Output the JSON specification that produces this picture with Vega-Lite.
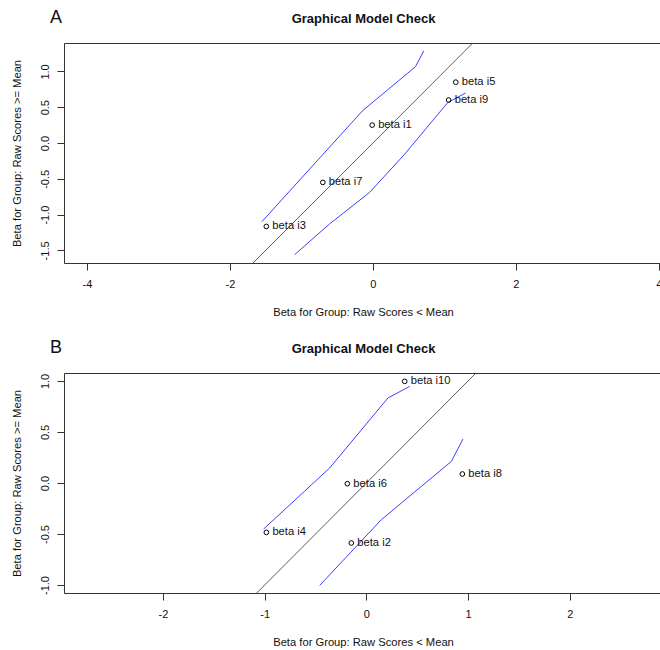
{
  "$schema": "https://vega.github.io/schema/vega-lite/v6.json",
  "padding": {"left": 10, "top": 8, "right": 0, "bottom": 0},
  "spacing": 20,
  "datasets": {
    "ptsA": [
      {"x": -0.01, "y": 0.25, "label": "beta i1"},
      {"x": 1.16, "y": 0.85, "label": "beta i5"},
      {"x": 1.06, "y": 0.60, "label": "beta i9"},
      {"x": -0.70, "y": -0.55, "label": "beta i7"},
      {"x": -1.49, "y": -1.165, "label": "beta i3"}
    ],
    "bandA": [
      {"band": "upper", "x": -1.552, "y": -1.099},
      {"band": "upper", "x": -0.144, "y": 0.451},
      {"band": "upper", "x": 0.596, "y": 1.066},
      {"band": "upper", "x": 0.713, "y": 1.289},
      {"band": "lower", "x": -1.095, "y": -1.560},
      {"band": "lower", "x": -0.606, "y": -1.131},
      {"band": "lower", "x": -0.046, "y": -0.690},
      {"band": "lower", "x": 0.434, "y": -0.168},
      {"band": "lower", "x": 1.049, "y": 0.567},
      {"band": "lower", "x": 1.297, "y": 0.698}
    ],
    "idA": [
      {"x": -1.676, "y": -1.676},
      {"x": 1.397, "y": 1.397}
    ],
    "ptsB": [
      {"x": 0.377, "y": 0.996, "label": "beta i10"},
      {"x": 0.944, "y": 0.088, "label": "beta i8"},
      {"x": -0.187, "y": -0.007, "label": "beta i6"},
      {"x": -0.148, "y": -0.588, "label": "beta i2"},
      {"x": -0.983, "y": -0.484, "label": "beta i4"}
    ],
    "bandB": [
      {"band": "upper", "x": -1.010, "y": -0.451},
      {"band": "upper", "x": -0.361, "y": 0.147},
      {"band": "upper", "x": 0.212, "y": 0.833},
      {"band": "upper", "x": 0.426, "y": 0.947},
      {"band": "lower", "x": -0.459, "y": -1.004},
      {"band": "lower", "x": 0.147, "y": -0.360},
      {"band": "lower", "x": 0.836, "y": 0.212},
      {"band": "lower", "x": 0.950, "y": 0.431}
    ],
    "idB": [
      {"x": -1.078, "y": -1.078},
      {"x": 1.078, "y": 1.078}
    ]
  },
  "vconcat": [
    {
      "width": 598,
      "height": 220,
      "title": {"text": "A", "anchor": "start", "frame": "group", "fontSize": 18, "fontWeight": "normal", "dx": -14, "dy": 14.5, "offset": 0},
      "resolve": {"axis": {"x": "independent"}},
      "layer": [
        {
          "data": {"name": "bandA"},
          "mark": {"type": "line", "color": "#4040ff", "strokeWidth": 1, "clip": true},
          "encoding": {
            "x": {"field": "x", "type": "quantitative", "scale": {"domain": [-4.32, 4.044], "nice": false, "zero": false},
              "axis": {"orient": "bottom", "values": [-4, -2, 0, 2, 4], "labelExpr": "replace(datum.label, '−', '-')", "title": "Beta for Group: Raw Scores < Mean", "labelPadding": 8.5, "titlePadding": 16.5}},
            "y": {"field": "y", "type": "quantitative", "scale": {"domain": [-1.676, 1.397], "nice": false, "zero": false},
              "axis": {"values": [-1.5, -1, -0.5, 0, 0.5, 1], "format": ".1f", "labelExpr": "replace(datum.label, '−', '-')", "labelAngle": -90, "labelAlign": "center", "labelBaseline": "bottom", "labelPadding": 7, "title": "Beta for Group: Raw Scores >= Mean", "titlePadding": 17}},
            "detail": {"field": "band", "type": "nominal"}
          }
        },
        {
          "data": {"name": "idA"},
          "mark": {"type": "line", "color": "#333333", "strokeWidth": 0.8, "clip": true},
          "encoding": {
            "x": {"field": "x", "type": "quantitative",
              "axis": {"orient": "top", "ticks": false, "labels": false, "domain": false, "title": "Graphical Model Check", "titleFontSize": 13, "titleFontWeight": "bold", "titlePadding": 18}},
            "y": {"field": "y", "type": "quantitative"}
          }
        },
        {
          "data": {"name": "ptsA"},
          "mark": {"type": "point", "shape": "circle", "filled": false, "color": "black", "size": 22, "strokeWidth": 1, "opacity": 1},
          "encoding": {
            "x": {"field": "x", "type": "quantitative", "axis": null},
            "y": {"field": "y", "type": "quantitative"}
          }
        },
        {
          "data": {"name": "ptsA"},
          "mark": {"type": "text", "align": "left", "baseline": "middle", "dx": 6, "fontSize": 11.2, "color": "#111111"},
          "encoding": {
            "x": {"field": "x", "type": "quantitative", "axis": null},
            "y": {"field": "y", "type": "quantitative"},
            "text": {"field": "label", "type": "nominal"}
          }
        }
      ]
    },
    {
      "width": 598,
      "height": 220,
      "title": {"text": "B", "anchor": "start", "frame": "group", "fontSize": 18, "fontWeight": "normal", "dx": -14, "dy": 14.5, "offset": 0},
      "resolve": {"axis": {"x": "independent"}},
      "layer": [
        {
          "data": {"name": "bandB"},
          "mark": {"type": "line", "color": "#4040ff", "strokeWidth": 1, "clip": true},
          "encoding": {
            "x": {"field": "x", "type": "quantitative", "scale": {"domain": [-2.973, 2.907], "nice": false, "zero": false},
              "axis": {"orient": "bottom", "values": [-2, -1, 0, 1, 2], "labelExpr": "replace(datum.label, '−', '-')", "title": "Beta for Group: Raw Scores < Mean", "labelPadding": 8.5, "titlePadding": 16.5}},
            "y": {"field": "y", "type": "quantitative", "scale": {"domain": [-1.078, 1.078], "nice": false, "zero": false},
              "axis": {"values": [-1, -0.5, 0, 0.5, 1], "format": ".1f", "labelExpr": "replace(datum.label, '−', '-')", "labelAngle": -90, "labelAlign": "center", "labelBaseline": "bottom", "labelPadding": 7, "title": "Beta for Group: Raw Scores >= Mean", "titlePadding": 17}},
            "detail": {"field": "band", "type": "nominal"}
          }
        },
        {
          "data": {"name": "idB"},
          "mark": {"type": "line", "color": "#333333", "strokeWidth": 0.8, "clip": true},
          "encoding": {
            "x": {"field": "x", "type": "quantitative",
              "axis": {"orient": "top", "ticks": false, "labels": false, "domain": false, "title": "Graphical Model Check", "titleFontSize": 13, "titleFontWeight": "bold", "titlePadding": 18}},
            "y": {"field": "y", "type": "quantitative"}
          }
        },
        {
          "data": {"name": "ptsB"},
          "mark": {"type": "point", "shape": "circle", "filled": false, "color": "black", "size": 22, "strokeWidth": 1, "opacity": 1},
          "encoding": {
            "x": {"field": "x", "type": "quantitative", "axis": null},
            "y": {"field": "y", "type": "quantitative"}
          }
        },
        {
          "data": {"name": "ptsB"},
          "mark": {"type": "text", "align": "left", "baseline": "middle", "dx": 6, "fontSize": 11.2, "color": "#111111"},
          "encoding": {
            "x": {"field": "x", "type": "quantitative", "axis": null},
            "y": {"field": "y", "type": "quantitative"},
            "text": {"field": "label", "type": "nominal"}
          }
        }
      ]
    }
  ],
  "config": {
    "font": "Liberation Sans",
    "view": {"stroke": "#333333", "strokeWidth": 1},
    "axis": {
      "labelFont": "Liberation Sans", "titleFont": "Liberation Sans",
      "labelFontSize": 11, "titleFontSize": 11.2,
      "labelColor": "#111111", "titleColor": "#111111", "titleFontWeight": "normal",
      "tickColor": "#333333", "tickSize": 7, "domain": false, "grid": false
    },
    "title": {"font": "Liberation Sans", "color": "#111111"}
  }
}
